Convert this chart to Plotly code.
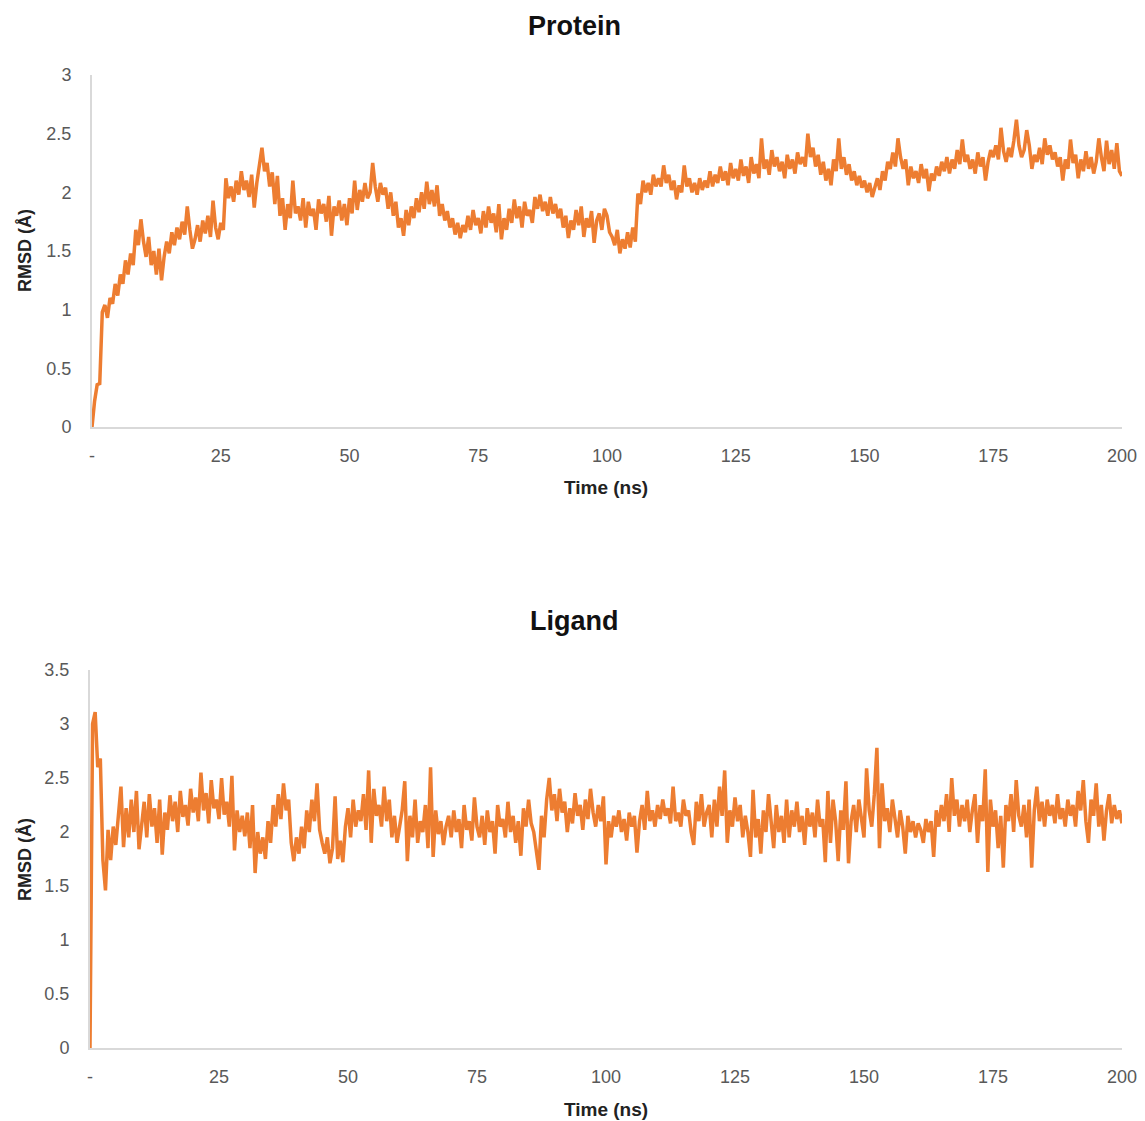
import plotly.graph_objects as go

# ---------------- data (0.5 ns sampling) ----------------
time_step_ns = 0.5
protein_rmsd = [
    0.00,0.22,0.36,0.37,0.98,1.04,0.93,1.10,1.05,1.22,1.12,1.30,1.22,1.42,1.30,1.48,1.38,1.68,1.55,1.77,
    1.58,1.45,1.62,1.38,1.50,1.30,1.52,1.25,1.45,1.58,1.48,1.66,1.55,1.70,1.60,1.75,1.64,1.88,1.68,1.52,
    1.60,1.72,1.58,1.76,1.65,1.80,1.62,1.93,1.70,1.60,1.74,1.68,2.12,1.95,2.05,1.92,2.10,1.98,2.18,2.02,
    2.10,1.96,2.15,1.87,2.08,2.25,2.38,2.18,2.25,2.05,2.17,1.90,2.14,1.80,1.95,1.68,1.90,1.78,2.10,1.82,
    1.88,1.76,1.95,1.70,1.92,1.80,1.86,1.68,1.94,1.82,1.90,1.75,1.97,1.63,1.88,1.80,1.93,1.76,1.90,1.72,
    1.95,1.82,2.10,1.85,2.02,1.92,2.08,1.95,2.00,2.25,2.05,1.92,2.08,1.98,2.04,1.86,2.00,1.80,1.92,1.70,
    1.78,1.63,1.85,1.72,1.88,1.78,1.95,1.83,2.00,1.86,2.09,1.90,2.02,1.88,2.06,1.80,1.90,1.76,1.84,1.70,
    1.78,1.64,1.74,1.61,1.72,1.66,1.80,1.68,1.85,1.72,1.78,1.65,1.84,1.70,1.88,1.74,1.82,1.66,1.90,1.60,
    1.78,1.68,1.86,1.74,1.94,1.78,1.88,1.70,1.92,1.80,1.85,1.74,1.96,1.86,1.98,1.84,1.92,1.80,1.96,1.82,
    1.90,1.78,1.86,1.70,1.80,1.61,1.76,1.68,1.85,1.72,1.88,1.62,1.78,1.70,1.84,1.57,1.76,1.82,1.68,1.86,
    1.80,1.66,1.62,1.55,1.68,1.48,1.60,1.52,1.66,1.53,1.70,1.58,1.99,1.90,2.10,2.00,2.08,1.98,2.15,2.05,
    2.12,2.05,2.23,2.08,2.15,2.02,2.10,1.94,2.06,2.00,2.23,2.05,2.12,2.00,2.08,1.98,2.12,2.02,2.10,2.04,
    2.18,2.05,2.15,2.08,2.22,2.10,2.18,2.06,2.25,2.12,2.20,2.10,2.28,2.14,2.22,2.08,2.30,2.16,2.24,2.12,
    2.46,2.20,2.28,2.15,2.36,2.22,2.30,2.18,2.26,2.12,2.32,2.20,2.28,2.16,2.34,2.24,2.30,2.22,2.50,2.30,
    2.38,2.22,2.32,2.15,2.26,2.10,2.20,2.06,2.28,2.18,2.46,2.20,2.30,2.15,2.24,2.10,2.18,2.06,2.14,2.04,
    2.10,2.00,2.08,1.96,2.05,2.12,2.02,2.18,2.10,2.26,2.20,2.34,2.22,2.46,2.30,2.20,2.28,2.06,2.22,2.12,
    2.18,2.08,2.24,2.12,2.20,2.01,2.16,2.10,2.22,2.14,2.26,2.18,2.30,2.16,2.28,2.20,2.36,2.24,2.45,2.26,
    2.32,2.20,2.28,2.16,2.34,2.22,2.30,2.10,2.26,2.36,2.30,2.40,2.28,2.55,2.35,2.26,2.38,2.30,2.44,2.62,
    2.40,2.30,2.36,2.53,2.40,2.20,2.32,2.26,2.38,2.24,2.46,2.32,2.40,2.28,2.34,2.22,2.30,2.10,2.28,2.20,
    2.45,2.25,2.32,2.12,2.28,2.18,2.35,2.20,2.30,2.16,2.26,2.46,2.30,2.18,2.44,2.24,2.36,2.20,2.42,2.18,
    2.14,
]
ligand_rmsd = [
    0.00,3.00,3.11,2.60,2.68,1.74,1.46,2.02,1.74,2.05,1.88,2.12,2.42,1.86,2.22,1.95,2.30,2.00,2.38,1.84,
    2.10,2.28,1.95,2.35,2.05,2.22,1.90,2.30,1.79,2.18,2.02,2.34,2.10,2.28,2.00,2.38,2.14,2.25,2.06,2.40,
    2.18,2.32,2.10,2.55,2.20,2.36,2.08,2.48,2.22,2.30,2.12,2.50,2.16,2.28,2.05,2.52,1.83,2.20,2.00,2.15,
    1.96,2.18,1.85,2.25,1.62,2.00,1.80,1.95,1.75,2.10,1.90,2.25,2.05,2.35,2.12,2.45,2.20,2.30,1.90,1.73,
    1.95,1.80,2.05,1.85,2.20,2.00,2.30,2.10,2.45,2.02,1.90,1.80,1.95,1.71,1.85,2.33,1.75,1.92,1.72,2.05,
    2.22,1.95,2.30,2.05,2.20,2.10,2.35,2.02,2.57,1.90,2.40,2.15,2.25,2.05,2.42,2.10,2.30,1.95,2.15,1.90,
    2.05,2.20,2.47,1.73,2.15,1.95,2.30,1.90,2.10,2.00,2.25,1.85,2.60,1.77,2.20,1.98,2.10,1.88,2.05,2.15,
    1.95,2.20,2.00,2.12,1.85,2.25,2.02,2.10,1.92,2.32,2.05,1.95,2.15,1.88,2.20,2.00,2.10,1.80,2.25,2.05,
    2.12,1.95,2.28,2.00,2.15,1.90,2.10,1.78,2.22,2.05,2.30,2.08,2.00,1.85,1.65,2.15,1.95,2.30,2.50,2.20,
    2.35,2.10,2.40,2.18,2.28,2.00,2.22,2.08,2.36,2.15,2.25,2.02,2.30,2.12,2.40,2.18,2.05,2.25,2.10,2.33,
    1.70,2.10,1.95,2.15,2.05,2.20,2.00,2.12,1.92,2.18,2.05,2.15,1.81,2.10,2.25,2.02,2.38,2.10,2.20,2.05,
    2.25,2.12,2.30,2.15,2.22,2.08,2.42,2.10,2.18,2.05,2.30,2.15,2.20,2.00,1.88,2.28,2.10,2.35,2.05,2.18,
    2.25,1.95,2.30,2.05,2.42,2.15,2.57,1.90,2.20,2.05,2.32,2.10,2.25,1.95,2.15,2.00,1.77,2.39,1.95,2.12,
    1.80,2.20,2.00,2.35,2.10,1.85,2.25,2.00,2.15,1.90,2.30,1.95,2.20,2.05,2.28,2.00,2.15,1.88,2.22,2.05,
    2.18,1.95,2.30,2.05,2.12,1.72,2.38,1.90,2.30,2.10,1.73,2.20,2.02,2.47,1.71,2.10,2.25,2.00,2.30,2.15,
    1.95,2.59,2.20,2.05,2.35,2.78,1.85,2.45,2.10,2.22,2.00,2.30,2.15,1.95,2.20,2.05,1.80,2.15,2.00,2.10,
    1.95,2.08,2.02,1.90,2.12,2.00,2.10,1.77,2.20,2.05,2.25,2.10,2.35,2.00,2.50,2.15,2.30,2.05,2.25,2.10,
    2.30,2.00,2.20,2.35,1.90,2.25,2.10,2.58,1.63,2.30,2.05,2.20,1.85,2.15,1.67,2.25,2.10,2.35,2.00,2.48,
    2.15,2.05,2.25,1.95,2.30,1.67,2.20,2.42,2.10,2.28,2.05,2.30,2.15,2.25,2.08,2.35,2.12,2.22,2.05,2.30,
    2.15,2.25,2.05,2.38,2.20,2.48,2.10,1.90,2.30,2.15,2.45,2.05,2.25,1.92,2.20,2.35,2.08,2.25,2.12,2.20,
    2.08,
]
time_ns = [i * time_step_ns for i in range(len(protein_rmsd))]

x_tick_vals = [0, 25, 50, 75, 100, 125, 150, 175, 200]
x_tick_text = ["-", "25", "50", "75", "100", "125", "150", "175", "200"]
protein_y_ticks = [0, 0.5, 1, 1.5, 2, 2.5, 3]
ligand_y_ticks = [0, 0.5, 1, 1.5, 2, 2.5, 3, 3.5]
panel_titles = ["Protein", "Ligand"]
x_title = "Time (ns)"
y_title = "RMSD (Å)"

# ---------------- figure ----------------
W, H = 1145, 1121
LINE = "#ED7D31"
AXIS = "#D9D9D9"
TICK = "#595959"
FONT = "Liberation Sans, Arial, sans-serif"

def px_x(p):
    return p / W

def px_y(p):
    return 1 - p / H

fig = go.Figure()
fig.add_trace(go.Scatter(x=time_ns, y=protein_rmsd, mode="lines",
                         line=dict(color=LINE, width=3.5), xaxis="x", yaxis="y",
                         showlegend=False))
fig.add_trace(go.Scatter(x=time_ns, y=ligand_rmsd, mode="lines",
                         line=dict(color=LINE, width=3.5), xaxis="x2", yaxis="y2",
                         showlegend=False))

common_x = dict(range=[0, 200], tickvals=x_tick_vals, ticktext=x_tick_text,
                showgrid=False, zeroline=False, showline=True, linecolor=AXIS,
                linewidth=2, ticks="", ticklabelstandoff=11, automargin=False,
                ticklabeloverflow="allow",
                tickfont=dict(family=FONT, size=18, color=TICK), fixedrange=True)
common_y = dict(showgrid=False, zeroline=False, showline=True, linecolor=AXIS,
                linewidth=2, ticks="", ticklabelstandoff=15, automargin=False,
                ticklabeloverflow="allow",
                tickfont=dict(family=FONT, size=18, color=TICK), fixedrange=True)

fig.update_layout(
    width=W, height=H,
    margin=dict(l=0, r=0, t=0, b=0, pad=0, autoexpand=False),
    paper_bgcolor="white", plot_bgcolor="white",
    xaxis=dict(domain=[px_x(92), px_x(1122)], anchor="y", **common_x),
    yaxis=dict(domain=[px_y(427), px_y(75)], anchor="x", range=[0, 3],
               tickvals=protein_y_ticks, **common_y),
    xaxis2=dict(domain=[px_x(90), px_x(1122)], anchor="y2", **common_x),
    yaxis2=dict(domain=[px_y(1048), px_y(670)], anchor="x2", range=[0, 3.5],
                tickvals=ligand_y_ticks, **common_y),
)

ann = []
for title, yc in zip(panel_titles, [26, 621]):
    ann.append(dict(text=f"<b>{title}</b>", x=px_x(574), y=px_y(yc), xref="paper",
                    yref="paper", showarrow=False, xanchor="center", yanchor="middle",
                    font=dict(family=FONT, size=27, color="#111111")))
for yc in [487, 1109]:
    ann.append(dict(text=f"<b>{x_title}</b>", x=px_x(606), y=px_y(yc), xref="paper",
                    yref="paper", showarrow=False, xanchor="center", yanchor="middle",
                    font=dict(family=FONT, size=19, color="#222222")))
for yc in [251, 860]:
    ann.append(dict(text=f"<b>{y_title}</b>", x=px_x(25), y=px_y(yc), xref="paper",
                    yref="paper", showarrow=False, xanchor="center", yanchor="middle",
                    textangle=-90,
                    font=dict(family=FONT, size=18, color="#222222")))
fig.update_layout(annotations=ann)

# remove the browser's default 8px body margin so the 1145x1121 figure fills the window
fig.write_html("out.html", config={"displayModeBar": False},
               post_script="document.body.style.margin='0px';")
